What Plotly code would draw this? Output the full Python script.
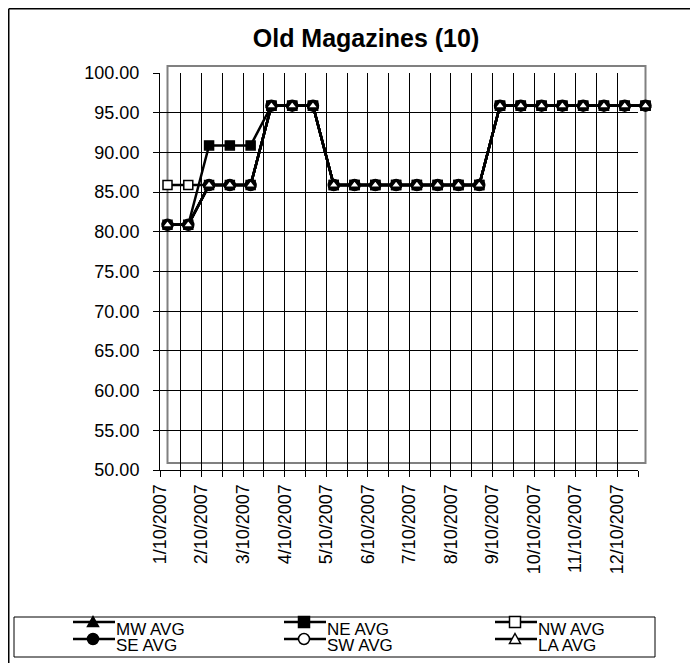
import plotly.graph_objects as go

# ---------------- data ----------------
categories = [
    "1/10/2007", "1/25/2007", "2/10/2007", "2/25/2007", "3/10/2007", "3/25/2007",
    "4/10/2007", "4/25/2007", "5/10/2007", "5/25/2007", "6/10/2007", "6/25/2007",
    "7/10/2007", "7/25/2007", "8/10/2007", "8/25/2007", "9/10/2007", "9/25/2007",
    "10/10/2007", "10/25/2007", "11/10/2007", "11/25/2007", "12/10/2007", "12/25/2007",
]
tick_labels = [
    "1/10/2007", "2/10/2007", "3/10/2007", "4/10/2007", "5/10/2007", "6/10/2007",
    "7/10/2007", "8/10/2007", "9/10/2007", "10/10/2007", "11/10/2007", "12/10/2007",
]
mw_avg = [80, 80, 85, 85, 85, 95, 95, 95, 85, 85, 85, 85, 85, 85, 85, 85, 95, 95, 95, 95, 95, 95, 95, 95]
ne_avg = [80, 80, 90, 90, 90, 95, 95, 95, 85, 85, 85, 85, 85, 85, 85, 85, 95, 95, 95, 95, 95, 95, 95, 95]
nw_avg = [85, 85, 85, 85, 85, 95, 95, 95, 85, 85, 85, 85, 85, 85, 85, 85, 95, 95, 95, 95, 95, 95, 95, 95]
se_avg = [80, 80, 85, 85, 85, 95, 95, 95, 85, 85, 85, 85, 85, 85, 85, 85, 95, 95, 95, 95, 95, 95, 95, 95]
sw_avg = [80, 80, 85, 85, 85, 95, 95, 95, 85, 85, 85, 85, 85, 85, 85, 85, 95, 95, 95, 95, 95, 95, 95, 95]
la_avg = [80, 80, 85, 85, 85, 95, 95, 95, 85, 85, 85, 85, 85, 85, 85, 85, 95, 95, 95, 95, 95, 95, 95, 95]
series_names = ["MW AVG", "NE AVG", "NW AVG", "SE AVG", "SW AVG", "LA AVG"]
y_min, y_max, y_step = 50, 100, 5

# ---------------- geometry (page pixels; the page body has an 8px margin) ----------------
OFF = 8
W, H = 690, 655
ML, MR, MT, MB = 152, 52, 58, 193
PW = W - ML - MR
PH = H - MT - MB
FONT = "Liberation Sans, Arial, sans-serif"


def px_x(x):
    return (x - OFF - ML) / PW


def px_y(y):
    return (H - MB - (y - OFF)) / PH


shown = set(tick_labels)
ticktext = [c if c in shown else "" for c in categories]

values = dict(zip(series_names, [mw_avg, ne_avg, nw_avg, se_avg, sw_avg, la_avg]))
# symbol, fill colour, size
style = {
    "MW AVG": ("triangle-up", "black", 9),
    "NE AVG": ("square", "black", 9),
    "NW AVG": ("square", "white", 9),
    "SE AVG": ("circle", "black", 11),
    "SW AVG": ("circle", "white", 9),
    "LA AVG": ("triangle-up", "white", 9),
}
draw_order = ["SW AVG", "NW AVG", "MW AVG", "SE AVG", "NE AVG", "LA AVG"]

fig = go.Figure()
# invisible trace for the gridline axis
fig.add_trace(go.Scatter(x=categories, y=[None] * len(categories), xaxis="x", yaxis="y",
                         showlegend=False, hoverinfo="skip"))
for name in draw_order:
    sym, fill, size = style[name]
    fig.add_trace(go.Scatter(
        x=categories, y=values[name], name=name, mode="lines+markers",
        xaxis="x2", yaxis="y2", cliponaxis=False, showlegend=False,
        line=dict(color="black", width=2.5),
        marker=dict(symbol=sym, size=size, color=fill, line=dict(color="black", width=1.5)),
    ))

shapes = [
    # plot-area frame (grey)
    dict(type="rect", xref="x2 domain", yref="y2 domain", x0=0, x1=1, y0=0, y1=1,
         line=dict(color="#808080", width=2), layer="below"),
    # chart frame (top and left edges)
    dict(type="line", xref="paper", yref="paper", x0=px_x(8.75), x1=px_x(698),
         y0=px_y(8.75), y1=px_y(8.75), line=dict(color="black", width=1.5)),
    dict(type="line", xref="paper", yref="paper", x0=px_x(8.75), x1=px_x(8.75),
         y0=px_y(8.75), y1=px_y(663), line=dict(color="black", width=1.5)),
    # legend box
    dict(type="rect", xref="paper", yref="paper", x0=px_x(14), x1=px_x(655),
         y0=px_y(657), y1=px_y(617), line=dict(color="black", width=1), fillcolor="white",
         layer="above"),
]
annotations = []

# ---- manual legend (Excel layout: 3 columns x 2 rows) ----
col_x = [73, 284, 495]
row_glyph_y = [622, 639]
row_text_y = [629, 645]
G = 5.5  # half glyph size
for i, name in enumerate(series_names):
    r, c = divmod(i, 3)
    lx = col_x[c]
    gy = row_glyph_y[r]
    mx = lx + 20
    shapes.append(dict(type="line", xref="paper", yref="paper",
                       x0=px_x(lx), x1=px_x(lx + 42), y0=px_y(gy), y1=px_y(gy),
                       line=dict(color="black", width=2.5), layer="above"))
    sym, fill, _ = style[name]
    if sym == "square":
        shapes.append(dict(type="rect", xref="paper", yref="paper",
                           x0=px_x(mx - G), x1=px_x(mx + G), y0=px_y(gy + G), y1=px_y(gy - G),
                           fillcolor=fill, line=dict(color="black", width=1.5), layer="above"))
    elif sym == "circle":
        shapes.append(dict(type="circle", xref="paper", yref="paper",
                           x0=px_x(mx - G), x1=px_x(mx + G), y0=px_y(gy + G), y1=px_y(gy - G),
                           fillcolor=fill, line=dict(color="black", width=1.5), layer="above"))
    else:
        path = "M {:.5f},{:.5f} L {:.5f},{:.5f} L {:.5f},{:.5f} Z".format(
            px_x(mx), px_y(gy - G), px_x(mx + G), px_y(gy + G - 1), px_x(mx - G), px_y(gy + G - 1))
        shapes.append(dict(type="path", xref="paper", yref="paper", path=path,
                           fillcolor=fill, line=dict(color="black", width=1.5), layer="above"))
    annotations.append(dict(text=name, xref="paper", yref="paper", x=px_x(lx + 41),
                            y=px_y(row_text_y[r]), xanchor="left", yanchor="middle",
                            showarrow=False, font=dict(size=17, family=FONT, color="black")))

n = len(categories)
fig.update_layout(
    width=W, height=H,
    margin=dict(l=ML, r=MR, t=MT, b=MB),
    paper_bgcolor="white", plot_bgcolor="rgba(0,0,0,0)",
    font=dict(family=FONT, color="black", size=18),
    title=dict(text="Old Magazines (10)", xref="container", yref="container",
               x=(366 - OFF) / W, y=1 - (38 - OFF) / H, xanchor="center", yanchor="middle",
               font=dict(size=25, weight="bold", family=FONT, color="black")),
    xaxis=dict(type="category", categoryorder="array", categoryarray=categories,
               domain=[0, 478 / PW], range=[0, n - 1], anchor="y",
               tickmode="array", tickvals=categories, ticktext=ticktext, tickangle=-90,
               showgrid=True, gridcolor="black", gridwidth=1,
               showline=True, linecolor="black", linewidth=1,
               ticks="outside", ticklen=6, tickcolor="black", zeroline=False,
               tickfont=dict(size=18)),
    yaxis=dict(domain=[0, 397 / PH], range=[y_min, y_max], anchor="x",
               tick0=y_min, dtick=y_step, tickformat=".2f",
               showgrid=True, gridcolor="black", gridwidth=1,
               showline=True, linecolor="black", linewidth=1,
               ticks="outside", ticklen=6, tickcolor="black", zeroline=False,
               ticklabelstandoff=10, tickfont=dict(size=18)),
    xaxis2=dict(type="category", categoryorder="array", categoryarray=categories,
                domain=[7.5 / PW, 485.5 / PW], range=[0, n - 1], anchor="y2", visible=False),
    yaxis2=dict(domain=[7 / PH, 1], range=[y_min, y_max], anchor="x2", visible=False),
    shapes=shapes,
    annotations=annotations,
    showlegend=False,
)

fig.write_html("out.html")
